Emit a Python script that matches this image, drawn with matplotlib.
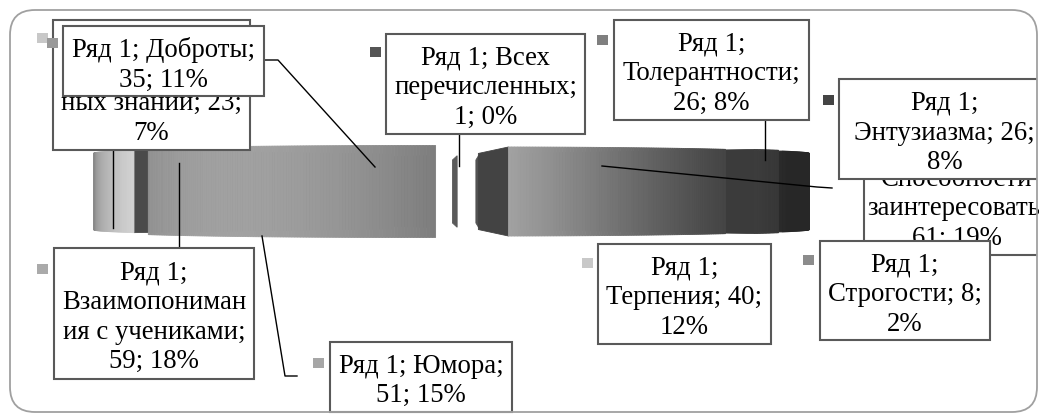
import numpy as np
import matplotlib.pyplot as plt
from matplotlib.patches import Polygon, Rectangle, FancyBboxPatch

# data
series = 'Ряд 1'
categories = ['Профессиональных знаний', 'Доброты', 'Всех перечисленных',
              'Толерантности', 'Энтузиазма', 'Способности заинтересовать',
              'Строгости', 'Терпения', 'Юмора', 'Взаимопонимания с учениками']
values = [23, 35, 1, 26, 26, 61, 8, 40, 51, 59]
percents = [7, 11, 0, 8, 8, 19, 2, 12, 15, 18]

# slice look (grey levels, 0-255 scale) and explosion
base_grey = [200, 160, 280, 260, 70, 130, 185, 208, 161, 232]
marker_grey = ['#c8c8c8', '#999999', '#555555', '#7f7f7f', '#444444',
               '#666666', '#8c8c8c', '#c8c8c8', '#a6a6a6', '#aaaaaa']
explode = [0.30, 0.30, 0.30, 0.30, 0.30, 0.19, 0.20, 0.155, 0.35, 0.23]

# camera for the edge-on 3-D pie (pixel space)
D, f_px, cx, cy, half_h = 7.0, 2040.0, 458.0, 191.5, 0.128
start_angle = -154.4
light = np.deg2rad(120)

# label layout: box (x0, y0, x1, y1), chars per line, marker position
boxes = [(53, 20, 250, 150), (63, 26, 264, 96), (386, 34, 585, 134),
         (614, 20, 809, 120), (839, 79, 1050, 179), (864, 125, 1050, 255),
         (820, 241, 990, 340), (598, 244, 771, 344), (330, 342, 512, 412),
         (54, 248, 254, 379)]
line_len = [[6, 13, 15], [15], [11, 14], [6, 14], [6, 15], [6, 11, 15],
            [6, 13], [6, 13], [13], [6, 13, 15]]
markers = [(37, 33), (47, 38), (370, 47), (597, 35), (823, 95), (848, 140),
           (803, 255), (582, 258), (313, 358), (37, 264)]
draw_order = [0, 1, 2, 3, 5, 4, 6, 7, 8, 9]
leaders = [[(113, 150), (113, 228)],
           [(264, 60), (278, 60), (375, 167)],
           [(459, 134), (459, 166)],
           [(765, 120), (765, 160)],
           [(602, 166), (817, 187), (832, 188)],
           [(297, 376), (285, 376), (262, 236)],
           [(179, 248), (179, 163)]]

plt.rcParams['font.family'] = 'serif'
plt.rcParams['font.serif'] = ['Liberation Serif', 'DejaVu Serif']


def wrap(text, lengths):
    out = []
    for n in lengths:
        out.append(text[:n])
        text = text[n:].lstrip()
    out.append(text)
    return '\n'.join(out)


def proj(X, Z, Y):
    k = f_px / (D - Z)
    return cx + k * X, cy - k * Y


def grey(level):
    v = min(max(level, 0), 255) / 255
    return (v, v, v)


fig = plt.figure(figsize=(10.39, 4.16), dpi=100)
ax = fig.add_axes([0, 0, 1, 1])
ax.set_xlim(0, 1039)
ax.set_ylim(416, 0)
ax.axis('off')

# build slices of the exploded pie
spans = np.array(values) / sum(values) * 360
a0 = start_angle + np.concatenate([[0], np.cumsum(spans)[:-1]])
slices = []
for i in range(len(values)):
    pa, pb = np.deg2rad(a0[i]), np.deg2rad(a0[i] + spans[i])
    mid = (pa + pb) / 2
    ox, oz = explode[i] * np.cos(mid), explode[i] * np.sin(mid)
    dist = np.hypot(ox + 0.5 * np.cos(mid), D - oz - 0.5 * np.sin(mid))
    polys = []
    # radial faces
    for ang, nrm in ((pa, (np.sin(pa), -np.cos(pa))), (pb, (-np.sin(pb), np.cos(pb)))):
        px, pz = ox + 0.5 * np.cos(ang), oz + 0.5 * np.sin(ang)
        if nrm[0] * (0 - px) + nrm[1] * (D - pz) <= 0:
            continue
        p0 = (ox, oz)
        p1 = (ox + np.cos(ang), oz + np.sin(ang))
        verts = [proj(p0[0], p0[1], half_h), proj(p1[0], p1[1], half_h),
                 proj(p1[0], p1[1], -half_h), proj(p0[0], p0[1], -half_h)]
        polys.append((verts, grey(base_grey[i] * 0.32)))
    # outer wall
    n = max(2, int(spans[i] * 2))
    t = np.linspace(pa, pb, n + 1)
    for k in range(n):
        tm = (t[k] + t[k + 1]) / 2
        px, pz = ox + np.cos(tm), oz + np.sin(tm)
        if np.cos(tm) * (0 - px) + np.sin(tm) * (D - pz) <= 0:
            continue
        x1, z1 = ox + np.cos(t[k]), oz + np.sin(t[k])
        x2, z2 = ox + np.cos(t[k + 1]), oz + np.sin(t[k + 1])
        shade = 0.3 + 0.7 * max(0.0, np.cos(tm - light)) ** 2
        verts = [proj(x1, z1, half_h), proj(x2, z2, half_h),
                 proj(x2, z2, -half_h), proj(x1, z1, -half_h)]
        polys.append((verts, grey(base_grey[i] * shade)))
    slices.append((dist, polys))

for dist, polys in sorted(slices, key=lambda s: -s[0]):
    for verts, col in polys:
        ax.add_patch(Polygon(verts, closed=True, facecolor=col, edgecolor=col,
                             linewidth=0.6, zorder=2))

# leader lines
for pts in leaders:
    xs, ys = zip(*pts)
    ax.plot(xs, ys, color='black', linewidth=1.0, zorder=3)

# outer frame and clipping
frame = FancyBboxPatch((10, 10), 1027, 402, boxstyle='round,pad=0,rounding_size=25',
                       facecolor='none', edgecolor='#a0a0a0', linewidth=1.3, zorder=10)
ax.add_patch(frame)
clip = Rectangle((0, 0), 1037, 416, transform=ax.transData)

# data labels
for z, i in enumerate(draw_order):
    x0, y0, x1, y1 = boxes[i]
    txt = wrap(f'{series}; {categories[i]}; {values[i]}; {percents[i]}%', line_len[i])
    rect = Rectangle((x0, y0), x1 - x0, y1 - y0, facecolor='white',
                     edgecolor='#595959', linewidth=1.5, zorder=4 + z * 0.1)
    ax.add_patch(rect)
    rect.set_clip_path(clip)
    t = ax.text((x0 + x1) / 2, (y0 + y1) / 2 + 4, txt, ha='center', va='center',
                fontsize=19.3, linespacing=1.24, zorder=4 + z * 0.1 + 0.05)
    t.set_clip_path(clip)
    mx, my = markers[i]
    ax.add_patch(Rectangle((mx, my), 11, 10, facecolor=marker_grey[i],
                           edgecolor='none', zorder=4 + z * 0.1 - 0.01))

fig.savefig('out.png', dpi=100)
